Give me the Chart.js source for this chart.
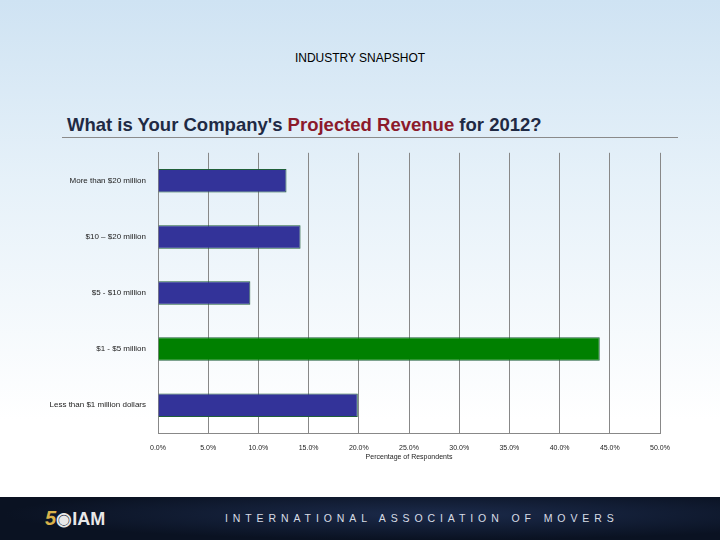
<!DOCTYPE html>
<html><head><meta charset="utf-8">
<script src="https://cdn.jsdelivr.net/npm/chart.js@4/dist/chart.umd.min.js"></script>
<style>
body{margin:0;width:720px;height:540px;overflow:hidden;position:relative;font-family:"Liberation Sans",Arial,sans-serif;background:linear-gradient(#cfe3f3 0px,#e6f1f9 180px,#ffffff 420px,#ffffff 497px);}
#t1{position:absolute;top:51px;left:0;width:720px;text-align:center;font-size:12px;color:#000;}
#t2{position:absolute;top:114px;left:67px;font-size:18.5px;font-weight:bold;color:#1f2a44;}
#t2 span{color:#8b1a2b;}
#rule{position:absolute;top:137px;left:62px;width:616px;height:1px;background:#8a8a8a;}
#foot{position:absolute;top:497px;left:0;width:720px;height:43px;background:radial-gradient(ellipse at 60% 40%,#1b2a4a,#0a1222 70%);}
#foot .txt{position:absolute;left:225px;top:15px;font-size:10.5px;letter-spacing:4.9px;color:#d8dde6;white-space:nowrap;}
#foot .logo{position:absolute;left:45px;top:10px;font-size:20px;font-weight:bold;color:#d9b24a;font-style:italic;}
#foot .logo span{color:#e8e8e8;font-style:normal;font-size:18px;}
#c{position:absolute;left:0;top:136px;}
</style></head><body>
<div id="t1">INDUSTRY SNAPSHOT</div>
<div id="t2">What is Your Company's <span>Projected Revenue</span> for 2012?</div>
<div id="rule"></div>
<canvas id="c" width="720" height="325"></canvas>
<div id="foot"><div class="logo">5<span>◉IAM</span></div><div class="txt">INTERNATIONAL ASSOCIATION OF MOVERS</div></div>
<script>
const categories=["More than $20 million","$10 – $20 million","$5 - $10 million","$1 - $5 million","Less than $1 million dollars"];
const values=[12.8,14.2,9.2,44.0,19.9];
const colors=["#333399","#333399","#333399","#008000","#333399"];
new Chart(document.getElementById('c'),{type:'bar',
data:{labels:categories,datasets:[{data:values,backgroundColor:colors,borderColor:"#1f5f3a",borderWidth:1,barPercentage:0.42,categoryPercentage:1}]},
options:{indexAxis:'y',responsive:false,animation:false,devicePixelRatio:1,
layout:{padding:{top:5,right:60,left:0,bottom:0}},
plugins:{legend:{display:false},tooltip:{enabled:false}},
scales:{
x:{min:0,max:50,ticks:{stepSize:5,padding:11,color:'#222',font:{family:'Liberation Sans',size:7},callback:v=>v.toFixed(1)+'%'},
grid:{color:'#888',drawTicks:false},border:{color:'#888'},
title:{display:true,text:'Percentage of Respondents',color:'#222',font:{family:'Liberation Sans',size:7},padding:{top:-11,bottom:0}}},
y:{afterFit:s=>{s.width=158;},ticks:{padding:12,color:'#222',font:{family:'Liberation Sans',size:8}},grid:{display:false,drawTicks:false},border:{color:'#888'}}
}}});
</script></body></html>
